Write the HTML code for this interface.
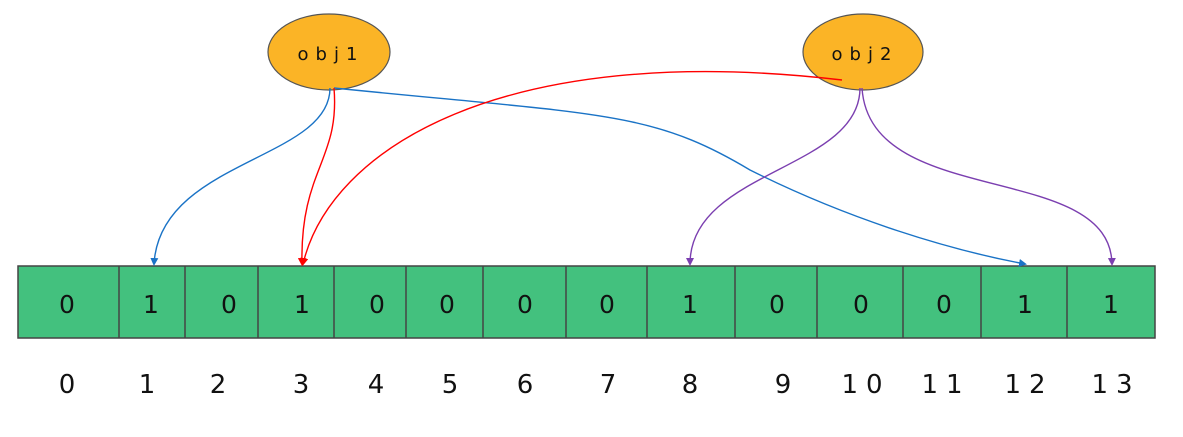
<!DOCTYPE html>
<html><head><style>body{margin:0;background:#fff}svg{display:block}</style></head><body>
<svg width="1183" height="437" xmlns="http://www.w3.org/2000/svg" font-family="DejaVu Sans, Liberation Sans, sans-serif">
<defs>
<marker id="b" markerWidth="8" markerHeight="8" refX="6" refY="4" orient="auto" markerUnits="userSpaceOnUse"><path d="M0,0 L8,4 L0,8z" fill="#1a73c6"/></marker>
<marker id="r" markerWidth="8" markerHeight="8" refX="6" refY="4" orient="auto" markerUnits="userSpaceOnUse"><path d="M0,0 L8,4 L0,8z" fill="#f00"/></marker>
<marker id="p" markerWidth="8" markerHeight="8" refX="6" refY="4" orient="auto" markerUnits="userSpaceOnUse"><path d="M0,0 L8,4 L0,8z" fill="#7b3fb0"/></marker>
</defs>
<rect x="18" y="266" width="1137" height="72" fill="#43c17e" stroke="#444" stroke-width="1.5"/>
<g stroke="#444" stroke-width="1.5">
<line x1="119" y1="266" x2="119" y2="338"/><line x1="185" y1="266" x2="185" y2="338"/><line x1="258" y1="266" x2="258" y2="338"/><line x1="334" y1="266" x2="334" y2="338"/><line x1="406" y1="266" x2="406" y2="338"/><line x1="483" y1="266" x2="483" y2="338"/><line x1="566" y1="266" x2="566" y2="338"/><line x1="647" y1="266" x2="647" y2="338"/><line x1="735" y1="266" x2="735" y2="338"/><line x1="817" y1="266" x2="817" y2="338"/><line x1="903" y1="266" x2="903" y2="338"/><line x1="981" y1="266" x2="981" y2="338"/><line x1="1067" y1="266" x2="1067" y2="338"/>
</g>
<g font-size="25" fill="#111" text-anchor="middle">
<text x="67" y="313">0</text><text x="151" y="313">1</text><text x="229" y="313">0</text><text x="302" y="313">1</text><text x="377" y="313">0</text><text x="447" y="313">0</text><text x="525" y="313">0</text><text x="607" y="313">0</text><text x="690" y="313">1</text><text x="777" y="313">0</text><text x="861" y="313">0</text><text x="944" y="313">0</text><text x="1025" y="313">1</text><text x="1111" y="313">1</text>
</g>
<g font-size="26" fill="#111" text-anchor="middle">
<text x="67" y="393">0</text><text x="147" y="393">1</text><text x="218" y="393">2</text><text x="301" y="393">3</text><text x="376" y="393">4</text><text x="450" y="393">5</text><text x="525" y="393">6</text><text x="608" y="393">7</text><text x="690" y="393">8</text><text x="783" y="393">9</text><text x="866" y="393" letter-spacing="8">10</text><text x="946" y="393" letter-spacing="8">11</text><text x="1029" y="393" letter-spacing="8">12</text><text x="1116" y="393" letter-spacing="8">13</text>
</g>
<ellipse cx="329" cy="52" rx="61" ry="38" fill="#fbb426" stroke="#555" stroke-width="1.2"/>
<ellipse cx="863" cy="52" rx="60" ry="38" fill="#fbb426" stroke="#555" stroke-width="1.2"/>
<text x="331" y="60" font-size="18" text-anchor="middle" letter-spacing="7" fill="#111">obj1</text>
<text x="865" y="60" font-size="18" text-anchor="middle" letter-spacing="7" fill="#111">obj2</text>
<g fill="none" stroke-width="1.4">
<path d="M330,88 C330,160 160,160 154,264" stroke="#1a73c6" marker-end="url(#b)"/>
<path d="M334,88 C600,115 650,110 750,170 C850,220 950,250 1025,264" stroke="#1a73c6" marker-end="url(#b)"/>
<path d="M334,88 C340,160 300,170 302,264" stroke="#f00" marker-end="url(#r)"/>
<path d="M842,80 C500,40 330,150 303,264" stroke="#f00" marker-end="url(#r)"/>
<path d="M860,88 C860,170 690,170 690,264" stroke="#7b3fb0" marker-end="url(#p)"/>
<path d="M862,88 C870,210 1110,160 1112,264" stroke="#7b3fb0" marker-end="url(#p)"/>
</g>
</svg>
</body></html>
